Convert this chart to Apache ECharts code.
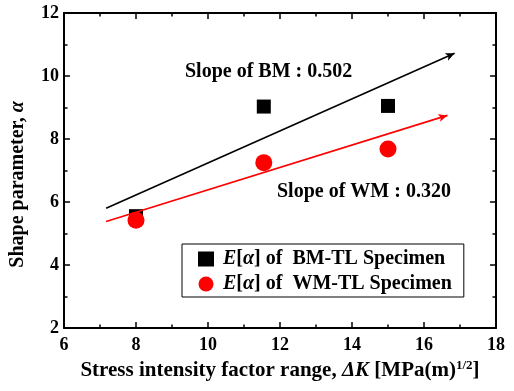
<!DOCTYPE html>
<html>
<head>
<meta charset="utf-8">
<script src="https://cdn.jsdelivr.net/npm/echarts@6/dist/echarts.min.js"></script>
<style>html,body{margin:0;padding:0;background:#fff;}#c{width:514px;height:391px;}</style>
</head>
<body>
<div id="c"></div>
<script>
var bmPoints = [[8.0, 5.55], [11.55, 9.03], [15.0, 9.05]];
var wmPoints = [[8.0, 5.42], [11.55, 7.25], [15.0, 7.68]];
var bmFit = [[7.17, 5.80], [16.85, 10.72]];
var wmFit = [[7.17, 5.38], [16.65, 8.75]];
var xTicks = [6, 8, 10, 12, 14, 16, 18];
var yTicks = [2, 4, 6, 8, 10, 12];
var slopeTexts = ['Slope of BM : 0.502', 'Slope of WM : 0.320'];

var FONT = '"Liberation Serif", "Times New Roman", serif';
var chart = echarts.init(document.getElementById('c'), null, {renderer: 'canvas'});

function axisCommon(showLabel) {
  return {
    axisLine: {show: true, onZero: false, lineStyle: {color: '#000', width: 2}},
    axisTick: {show: true, inside: true, length: 6, lineStyle: {color: '#000', width: 1.5}},
    minorTick: {show: true, splitNumber: 2, length: 3.5, lineStyle: {color: '#000', width: 1.5}},
    splitLine: {show: false},
    axisLabel: {show: showLabel, color: '#000', fontFamily: FONT, fontWeight: 'bold', fontSize: 18}
  };
}

var xMain = Object.assign(axisCommon(true), {
  type: 'value', min: xTicks[0], max: xTicks[xTicks.length - 1], interval: 2, position: 'bottom',
  name: 'Stress intensity factor range, {it|ΔK} [MPa(m){sup|1/2}]',
  nameLocation: 'middle', nameGap: 30,
  nameTextStyle: {
    color: '#000', fontFamily: FONT, fontWeight: 'bold', fontSize: 21,
    rich: {
      it: {fontFamily: FONT, fontWeight: 'bold', fontStyle: 'italic', fontSize: 21, color: '#000'},
      sup: {fontFamily: FONT, fontWeight: 'bold', fontSize: 13, color: '#000', verticalAlign: 'bottom', padding: [0, 0, 10, 0]}
    }
  }
});
xMain.axisLabel.margin = 8;
var xTop = Object.assign(axisCommon(false), {
  type: 'value', min: xTicks[0], max: xTicks[xTicks.length - 1], interval: 2, position: 'top'
});
var yMain = Object.assign(axisCommon(true), {
  type: 'value', min: yTicks[0], max: yTicks[yTicks.length - 1], interval: 2, position: 'left',
  name: 'Shape parameter, {a|α}', nameLocation: 'middle', nameGap: 36, nameRotate: 90,
  nameTextStyle: {
    color: '#000', fontFamily: FONT, fontWeight: 'bold', fontSize: 20, padding: [0, 28, 0, 0],
    rich: {a: {fontFamily: FONT, fontWeight: 'bold', fontStyle: 'italic', fontSize: 20, color: '#000'}}
  }
});
yMain.axisLabel.margin = 5;
var yRight = Object.assign(axisCommon(false), {
  type: 'value', min: yTicks[0], max: yTicks[yTicks.length - 1], interval: 2, position: 'right'
});

function fitSeries(name, pts, color) {
  return {
    name: name, type: 'line', xAxisIndex: 0, yAxisIndex: 0, data: [],
    silent: true, showSymbol: false,
    markLine: {
      silent: true, symbol: ['none', 'arrow'], symbolSize: [6, 9],
      label: {show: false},
      lineStyle: {color: color, width: 1.6, type: 'solid'},
      emphasis: {disabled: true},
      data: [[{coord: pts[0]}, {coord: pts[1]}]]
    }
  };
}

chart.setOption({
  animation: false,
  backgroundColor: '#fff',
  grid: {left: 64, right: 18, top: 13, bottom: 63, containLabel: false},
  xAxis: [xMain, xTop],
  yAxis: [yMain, yRight],
  legend: {
    data: [{name: 'BM', icon: 'rect'}, {name: 'WM', icon: 'circle'}],
    orient: 'vertical', left: 182, top: 244,
    backgroundColor: '#fff', borderColor: '#000', borderWidth: 1,
    padding: [5, 12, 3, 16], itemGap: 5, itemWidth: 16, itemHeight: 15,
    formatter: function (n) {
      return '{i|E}[{a|α}] of  ' + (n === 'BM' ? 'BM-TL Specimen' : 'WM-TL Specimen');
    },
    textStyle: {
      color: '#000', fontFamily: FONT, fontWeight: 'bold', fontSize: 20, padding: [0, 0, 0, 4],
      rich: {
        i: {fontFamily: FONT, fontWeight: 'bold', fontStyle: 'italic', fontSize: 20, color: '#000'},
        a: {fontFamily: FONT, fontWeight: 'bold', fontStyle: 'italic', fontSize: 20, color: '#000'}
      }
    }
  },
  graphic: [
    {type: 'text', left: 185, top: 62, style: {text: slopeTexts[0], fill: '#000', font: 'bold 20px ' + FONT}},
    {type: 'text', left: 277, top: 182, style: {text: slopeTexts[1], fill: '#000', font: 'bold 20px ' + FONT}}
  ],
  series: [
    fitSeries('fitBM', bmFit, '#000'),
    fitSeries('fitWM', wmFit, '#ff0000'),
    {name: 'BM', type: 'scatter', symbol: 'rect', symbolSize: 14, data: bmPoints,
     itemStyle: {color: '#000', opacity: 1}, z: 3},
    {name: 'WM', type: 'scatter', symbol: 'circle', symbolSize: 17, data: wmPoints,
     itemStyle: {color: '#ff0000', opacity: 1}, z: 4}
  ]
});
</script>
</body>
</html>
